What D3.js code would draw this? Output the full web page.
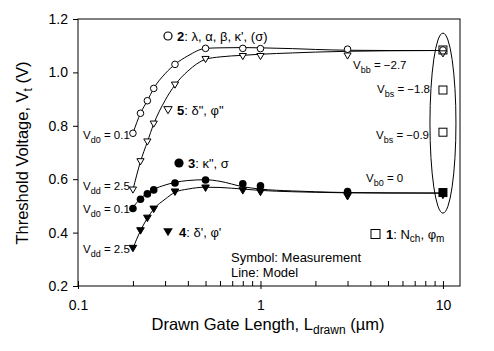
<!DOCTYPE html>
<html><head><meta charset="utf-8">
<script src="https://cdn.jsdelivr.net/npm/d3@7"></script>
<style>body{margin:0;background:#fff}svg{display:block}text{font-family:"Liberation Sans",Arial,sans-serif;fill:#000}</style>
</head><body><div id="c"></div>
<script>
// measured gate lengths (µm)
const lengths = [0.2, 0.22, 0.24, 0.26, 0.34, 0.5, 0.8, 1, 3, 10];
// measurement series (Vt, V)
const s2OpenCircle = [0.772, 0.847, 0.894, 0.940, 1.030, 1.090, 1.090, 1.089, 1.087, 1.084];
const s5OpenTri    = [0.560, 0.666, 0.740, 0.807, 0.953, 1.049, 1.060, 1.060, 1.062, 1.070];
const s3FilledCirc = [0.490, 0.525, 0.545, 0.560, 0.586, 0.597, 0.583, 0.575, 0.554, 0.550];
const s4FilledTri  = [0.341, 0.407, 0.454, 0.488, 0.552, 0.567, 0.557, 0.551, 0.535, 0.540];
// series 1: squares at L = 10 µm for several Vbs
const s1Length = 10;
const s1Vbs = [-2.7, -1.8, -0.9, 0];
const s1Vt  = [1.084, 0.934, 0.776, 0.550];
// model lines
const modelL  = [0.2, 0.22, 0.24, 0.26, 0.3, 0.34, 0.4, 0.5, 0.6, 0.8, 1, 1.5, 2, 3, 5, 10];
const model2  = [0.772, 0.847, 0.894, 0.940, 0.995, 1.030, 1.062, 1.090, 1.092, 1.093, 1.092, 1.089, 1.086, 1.083, 1.082, 1.082];
const model5  = [0.560, 0.666, 0.740, 0.807, 0.895, 0.953, 1.005, 1.049, 1.058, 1.064, 1.068, 1.073, 1.076, 1.079, 1.081, 1.082];
const model3  = [0.495, 0.527, 0.548, 0.562, 0.578, 0.588, 0.595, 0.598, 0.592, 0.572, 0.563, 0.556, 0.553, 0.550, 0.549, 0.548];
const model4  = [0.341, 0.407, 0.454, 0.488, 0.525, 0.551, 0.563, 0.570, 0.569, 0.563, 0.558, 0.553, 0.551, 0.549, 0.548, 0.548];
// axes
const xTickLabels = [0.1, 1, 10];
const yTickLabels = [0.2, 0.4, 0.6, 0.8, 1.0, 1.2];

const W = 494, H = 351;
const svg = d3.select("#c").append("svg").attr("width", W).attr("height", H);
const x = d3.scaleLog().domain([0.1, 12.4]).range([78, 460]);
const y = d3.scaleLinear().domain([0.2, 1.2]).range([286, 19]);

// frame
svg.append("rect").attr("x", 78).attr("y", 19).attr("width", 460 - 78).attr("height", 286 - 19)
  .attr("fill", "none").attr("stroke", "#000").attr("stroke-width", 1);

// y axis
const yAx = svg.append("g").attr("transform", "translate(78,0)")
  .call(d3.axisLeft(y).tickValues(yTickLabels).tickFormat(d3.format(".1f")).tickSize(5).tickPadding(5));
yAx.select(".domain").remove();
yAx.selectAll("text").style("font-size", "14px").attr("font-family", "Liberation Sans, Arial, sans-serif");

// x axis (ticks inward)
const minor = [];
[0.1, 1].forEach(d => { for (let k = 2; k <= 9; k++) minor.push(+(d * k).toFixed(2)); });
const xAx = svg.append("g").attr("transform", "translate(0,286)")
  .call(d3.axisBottom(x).tickValues(xTickLabels.concat(minor))
    .tickFormat(d => xTickLabels.includes(d) ? d3.format("~g")(d) : "")
    .tickSizeInner(-5).tickSizeOuter(0).tickPadding(14));
xAx.select(".domain").remove();
xAx.selectAll("text").style("font-size", "14px").attr("font-family", "Liberation Sans, Arial, sans-serif");
xAx.selectAll(".tick").filter(d => xTickLabels.includes(d)).append("line")
  .attr("y1", 0).attr("y2", 3).attr("stroke", "#000");

// titles
const xt = svg.append("text").attr("x", 268).attr("y", 330).attr("text-anchor", "middle").style("font-size", "16.5px");
xt.append("tspan").text("Drawn Gate Length, L");
xt.append("tspan").attr("dy", 4).style("font-size", "12px").text("drawn");
xt.append("tspan").attr("dy", -4).text(" (\u00b5m)");
const yt = svg.append("text").attr("transform", "translate(28,153) rotate(-90)").attr("text-anchor", "middle").style("font-size", "16.5px");
yt.append("tspan").text("Threshold Voltage, V");
yt.append("tspan").attr("dy", 4).style("font-size", "12px").text("t");
yt.append("tspan").attr("dy", -4).text(" (V)");

// model lines
const line = d3.line().x(d => x(d[0])).y(d => y(d[1])).curve(d3.curveMonotoneX);
[model2, model5, model3, model4].forEach(m => {
  svg.append("path").datum(modelL.map((l, i) => [l, m[i]])).attr("d", line)
    .attr("fill", "none").attr("stroke", "#000").attr("stroke-width", 1);
});

// ellipse around L=10 µm points
svg.append("ellipse").attr("cx", x(s1Length)).attr("cy", y(0.81)).attr("rx", 13).attr("ry", 90)
  .attr("fill", "none").attr("stroke", "#000").attr("stroke-width", 1);

// markers
const triDown = s => `M${-s},${-s * 0.8}L${s},${-s * 0.8}L0,${s * 0.9}Z`;
function pts(vals, draw) {
  lengths.forEach((l, i) => draw(svg, x(l), y(vals[i])));
}
pts(s2OpenCircle, (g, cx, cy) => g.append("circle").attr("cx", cx).attr("cy", cy).attr("r", 3.3).attr("fill", "#fff").attr("stroke", "#000"));
pts(s5OpenTri, (g, cx, cy) => g.append("path").attr("d", triDown(3.6)).attr("transform", `translate(${cx},${cy})`).attr("fill", "#fff").attr("stroke", "#000"));
pts(s3FilledCirc, (g, cx, cy) => g.append("circle").attr("cx", cx).attr("cy", cy).attr("r", 3.8).attr("fill", "#000"));
pts(s4FilledTri, (g, cx, cy) => g.append("path").attr("d", triDown(3.8)).attr("transform", `translate(${cx},${cy})`).attr("fill", "#000").attr("stroke", "#000"));
s1Vt.forEach((v, i) => {
  svg.append("rect").attr("x", x(s1Length) - 4).attr("y", y(v) - 4).attr("width", 8).attr("height", 8)
    .attr("fill", i === 3 ? "#000" : "none").attr("stroke", "#000");
});

// text helpers
function vlabel(px, py, sub, rest, size = 11.5) {
  const t = svg.append("text").attr("x", px).attr("y", py).style("font-size", size + "px");
  t.append("tspan").text("V");
  t.append("tspan").attr("dy", 4).style("font-size", (size - 2.5) + "px").text(sub);
  t.append("tspan").attr("dy", -4).text(rest);
}
vlabel(353, 68.5, "bb", " = \u22122.7");
vlabel(377, 93, "bs", " = \u22121.8");
vlabel(376, 138.5, "bs", " = \u22120.9");
vlabel(366, 181.5, "b0", " = 0");
vlabel(83, 138.5, "d0", " = 0.1");
vlabel(83, 190, "dd", " = 2.5");
vlabel(83, 213, "d0", " = 0.1");
vlabel(83, 253, "dd", " = 2.5");

// legend entries
function legendText(px, py, num, parts) {
  const t = svg.append("text").attr("x", px).attr("y", py).style("font-size", "13px");
  t.append("tspan").style("font-weight", "bold").text(num);
  parts.forEach(p => {
    const s = t.append("tspan").text(p[0]);
    if (p[1] === "sub") s.attr("dy", 3).style("font-size", "10px");
    if (p[1] === "up") s.attr("dy", -3);
  });
}
svg.append("circle").attr("cx", 168).attr("cy", 36).attr("r", 4).attr("fill", "none").attr("stroke", "#000").attr("stroke-width", 1.2);
legendText(177, 40.5, "2", [[": \u03bb, \u03b1, \u03b2, \u03ba', (\u03c3)"]]);
svg.append("path").attr("d", triDown(4.2)).attr("transform", "translate(168,110)").attr("fill", "none").attr("stroke", "#000");
legendText(177, 114.5, "5", [[": \u03b4\", \u03c6\""]]);
svg.append("circle").attr("cx", 179).attr("cy", 163).attr("r", 4.6).attr("fill", "#000");
legendText(188, 167.5, "3", [[": \u03ba\", \u03c3"]]);
svg.append("path").attr("d", triDown(4.8)).attr("transform", "translate(168,232)").attr("fill", "#000");
legendText(179, 237, "4", [[": \u03b4', \u03c6'"]]);
svg.append("rect").attr("x", 371).attr("y", 229.5).attr("width", 9).attr("height", 9).attr("fill", "none").attr("stroke", "#000");
legendText(386, 239, "1", [[": N"], ["ch", "sub"], [", \u03c6", "up"], ["m", "sub"]]);

svg.append("text").attr("x", 231).attr("y", 262).style("font-size", "13px").text("Symbol: Measurement");
svg.append("text").attr("x", 231).attr("y", 277).style("font-size", "13px").text("Line: Model");
</script></body></html>
